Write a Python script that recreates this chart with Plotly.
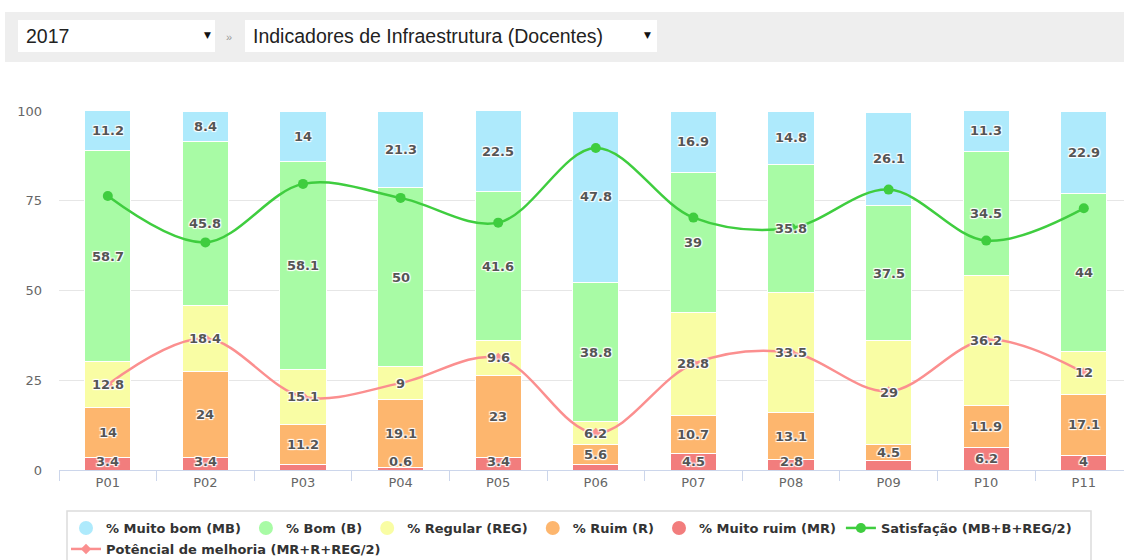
import plotly.graph_objects as go

categories = ["P01", "P02", "P03", "P04", "P05", "P06", "P07", "P08", "P09", "P10", "P11"]

muito_bom = [11.2, 8.4, 14, 21.3, 22.5, 47.8, 16.9, 14.8, 26.1, 11.3, 22.9]
bom = [58.7, 45.8, 58.1, 50, 41.6, 38.8, 39, 35.8, 37.5, 34.5, 44]
regular = [12.8, 18.4, 15.1, 9, 9.6, 6.2, 28.8, 33.5, 29, 36.2, 12]
ruim = [14, 24, 11.2, 19.1, 23, 5.6, 10.7, 13.1, 4.5, 11.9, 17.1]
muito_ruim = [3.4, 3.4, 1.6, 0.6, 3.4, 1.6, 4.5, 2.8, 2.6, 6.2, 4]
muito_ruim_label_shown = [True, True, False, True, True, False, True, True, False, True, True]

satisfacao = [76.3, 63.4, 79.7, 75.8, 68.9, 89.7, 70.3, 67.4, 78.1, 63.9, 72.9]
potencial = [23.8, 36.6, 20.4, 24.2, 31.2, 10.3, 29.6, 32.7, 21.9, 36.2, 27.1]

year_label = "2017"
indicator_label = "Indicadores de Infraestrutura (Docentes)"

# stacking order bottom -> top
stack = [
    ("% Muito ruim (MR)", muito_ruim, "#f27d7d"),
    ("% Ruim (R)", ruim, "#fdb66e"),
    ("% Regular (REG)", regular, "#f9fda4"),
    ("% Bom (B)", bom, "#a8fba5"),
    ("% Muito bom (MB)", muito_bom, "#aeeafc"),
]
legend_order = [4, 3, 2, 1, 0]

W, H = 1124, 560
ML, MR, MT, MB = 59, 0, 111, 90
PW = W - ML - MR
PH = H - MT - MB
CAT_PX = 97.6


def px(xp):
    return (xp - ML) / PW


def py(yp):
    return (H - MB - yp) / PH


fig = go.Figure()

for name, vals, col in stack:
    fig.add_trace(go.Bar(
        x=categories, y=vals, name=name, showlegend=False,
        marker=dict(color=col, line=dict(color="#ffffff", width=1)),
        hoverinfo="skip",
    ))

for idx in legend_order:
    name, vals, col = stack[idx]
    fig.add_trace(go.Scatter(
        x=[None], y=[None], mode="markers", name=name, legend="legend",
        marker=dict(symbol="circle", size=14, color=col),
    ))

fig.add_trace(go.Scatter(
    x=categories, y=satisfacao, mode="lines+markers", legend="legend",
    name="Satisfação (MB+B+REG/2)",
    line=dict(color="#3fcd3f", width=2.5, shape="spline", smoothing=1),
    marker=dict(symbol="circle", size=10, color="#3fcd3f"),
))
fig.add_trace(go.Scatter(
    x=categories, y=potencial, mode="lines+markers", legend="legend2",
    name="Potêncial de melhoria (MR+R+REG/2)",
    line=dict(color="#fb8f8f", width=2.5, shape="spline", smoothing=1),
    marker=dict(symbol="diamond", size=8, color="#fb8f8f"),
))

annotations = []
base = [0.0] * len(categories)
label_font = dict(family="DejaVu Sans", size=13, color="#555555", weight="bold",
                  shadow="1px 1px 1px #ffffff, -1px -1px 1px #ffffff, 1px -1px 1px #ffffff, -1px 1px 1px #ffffff")
for si, (name, vals, col) in enumerate(stack):
    for i, v in enumerate(vals):
        show = True
        if si == 0:
            show = muito_ruim_label_shown[i]
        if show:
            yc = max(base[i] + v / 2.0, 2.3)
            annotations.append(dict(
                x=categories[i], y=yc, xref="x", yref="y", text=f"{v:g}",
                showarrow=False, font=label_font, xanchor="center", yanchor="middle",
            ))
        base[i] += v

# top selector bar and legend frame
shapes = [
    dict(type="rect", xref="paper", yref="paper", x0=px(5), x1=px(1130), y0=py(62), y1=py(12),
         fillcolor="#eeeeee", line=dict(width=0), layer="below"),
    dict(type="rect", xref="paper", yref="paper", x0=px(18), x1=px(215), y0=py(52), y1=py(20),
         fillcolor="#ffffff", line=dict(width=0), layer="below"),
    dict(type="rect", xref="paper", yref="paper", x0=px(245), x1=px(657), y0=py(52), y1=py(20),
         fillcolor="#ffffff", line=dict(width=0), layer="below"),
    dict(type="rect", xref="paper", yref="paper", x0=px(67), x1=px(1091), y0=py(580), y1=py(511),
         fillcolor="rgba(0,0,0,0)", line=dict(width=1.5, color="#dcdcdc"), layer="below"),
]
sel_font = dict(family="Liberation Sans, Arial", size=19.5, color="#222222")
annotations += [
    dict(xref="paper", yref="paper", x=px(24), y=py(36), text=year_label, showarrow=False,
         xanchor="left", yanchor="middle", font=sel_font),
    dict(xref="paper", yref="paper", x=px(207), y=py(35), text="▼", showarrow=False,
         xanchor="center", yanchor="middle", font=dict(family="DejaVu Sans", size=9, color="#111111")),
    dict(xref="paper", yref="paper", x=px(229), y=py(37), text="»", showarrow=False,
         xanchor="center", yanchor="middle", font=dict(family="Liberation Sans, Arial", size=11, color="#999999")),
    dict(xref="paper", yref="paper", x=px(251), y=py(36), text=indicator_label, showarrow=False,
         xanchor="left", yanchor="middle", font=sel_font),
    dict(xref="paper", yref="paper", x=px(647), y=py(35), text="▼", showarrow=False,
         xanchor="center", yanchor="middle", font=dict(family="DejaVu Sans", size=9, color="#111111")),
]

legend_font = dict(family="DejaVu Sans", size=13, color="#333333", weight="bold")

fig.update_layout(
    width=W, height=H,
    margin=dict(l=ML, r=MR, t=MT, b=MB),
    barmode="stack", bargap=0.526,
    plot_bgcolor="#ffffff", paper_bgcolor="#ffffff",
    showlegend=True,
    legend=dict(
        orientation="h", xref="container", yref="container",
        x=66 / W, y=1 - 513 / H, xanchor="left", yanchor="top",
        borderwidth=0, bgcolor="rgba(0,0,0,0)", traceorder="normal",
        font=legend_font, itemsizing="trace", tracegroupgap=0,
    ),
    legend2=dict(
        orientation="h", xref="container", yref="container",
        x=66 / W, y=1 - 534 / H, xanchor="left", yanchor="top",
        borderwidth=0, bgcolor="rgba(0,0,0,0)", traceorder="normal",
        font=legend_font, itemsizing="trace",
    ),
    annotations=annotations,
    shapes=shapes,
    hovermode=False,
)
fig.update_xaxes(
    type="category", range=[-0.5, (W - ML) / CAT_PX - 0.5],
    showline=True, linecolor="#ccd6eb", linewidth=1,
    ticks="outside", tickson="boundaries", ticklen=10, tickcolor="#ccd6eb",
    showgrid=False, tickfont=dict(family="DejaVu Sans", size=13, color="#666666"),
)
fig.update_yaxes(
    range=[0, 100], tickvals=[0, 25, 50, 75, 100],
    showgrid=True, gridcolor="#e6e6e6", gridwidth=1, zeroline=False,
    showline=False, ticks="", ticklabelstandoff=16,
    tickfont=dict(family="DejaVu Sans", size=13, color="#666666"),
)

fig.write_html("out.html", config={"displayModeBar": False},
               post_script="document.body.style.margin='0';")
